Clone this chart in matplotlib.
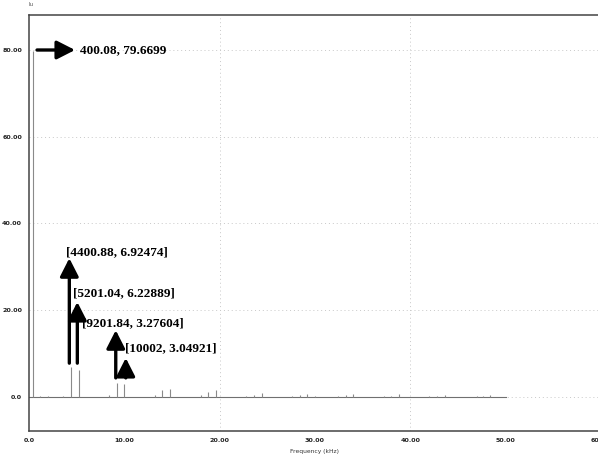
import matplotlib
matplotlib.use("Agg")
import matplotlib.pyplot as plt

# ---- data (frequency in kHz, magnitude) ----
spike_freq = [0.4, 1.2, 2.0, 3.6, 4.4, 5.2, 8.4, 9.2, 10.0, 13.2, 14.0, 14.8,
              18.0, 18.8, 19.6, 22.8, 23.6, 24.4, 27.6, 28.4, 29.2, 30.0,
              32.4, 33.2, 34.0, 37.2, 38.0, 38.8, 42.0, 42.8, 43.6,
              47.0, 47.6, 48.4]
spike_amp = [79.6699, 0.15, 0.15, 0.3, 6.92474, 6.22889, 0.4, 3.27604, 3.04921,
             0.5, 1.6, 1.9, 0.4, 1.1, 1.5, 0.3, 0.5, 0.9, 0.3, 0.4, 0.8, 0.2,
             0.3, 0.4, 0.8, 0.3, 0.3, 0.6, 0.2, 0.3, 0.4, 0.2, 0.3, 0.4]
freq_range = [0.0, 50.0]
baseline = [0.0, 0.0]

x_ticks = [0, 10, 20, 30, 40, 50, 60]
x_tick_labels = ["0.0", "10.00", "20.00", "30.00", "40.00", "50.00", "60.00"]
y_ticks = [0, 20, 40, 60, 80]
y_tick_labels = ["0.0", "20.00", "40.00", "60.00", "80.00"]
x_grid = [20, 40]

labels = ["400.08, 79.6699", "[4400.88, 6.92474]", "[5201.04, 6.22889]",
          "[9201.84, 3.27604]", "[10002, 3.04921]"]

W, H = 598, 465
fig = plt.figure(figsize=(W / 100, H / 100), dpi=100)
left_px, right_px, top_px, bot_px = 29, 601, 15, 431
ax = fig.add_axes([left_px / W, (H - bot_px) / H, (right_px - left_px) / W,
                   (bot_px - top_px) / H])
ax.set_xlim(0, 60)
ax.set_ylim(-7.84, 88.07)

# grid
for g in y_ticks:
    ax.axhline(g, color="#c8c8c8", lw=0.7, ls=(0, (1, 3)), zorder=0)
for g in x_grid:
    ax.axvline(g, color="#c8c8c8", lw=0.7, ls=(0, (1, 3)), zorder=0)

# spectrum
ax.plot(freq_range, baseline, color="#707070", lw=0.8, zorder=2)
ax.vlines(spike_freq, 0, spike_amp, color="#8a8a8a", lw=0.8, zorder=2)

# arrows
def arrow(tail, tip):
    ax.annotate("", xy=tip, xytext=tail,
                arrowprops=dict(arrowstyle="-|>,head_length=11,head_width=5.6",
                                mutation_scale=1, lw=2.4, color="black",
                                shrinkA=0, shrinkB=0), zorder=5)

arrow((0.84, 80.0), (4.83, 80.0))
arrow((4.23, 7.8), (4.23, 32.0))
arrow((5.07, 7.8), (5.07, 21.9))
arrow((9.1, 4.4), (9.1, 15.4))
arrow((10.15, 4.4), (10.15, 9.0))

tfont = dict(family="Liberation Serif", weight="bold", size=9.5, color="black",
             va="center", ha="left", zorder=6)
ax.text(5.35, 80.0, labels[0], **tfont)
ax.text(3.88, 33.5, labels[1], **tfont)
ax.text(4.59, 24.0, labels[2], **tfont)
ax.text(5.53, 17.1, labels[3], **tfont)
ax.text(10.07, 11.3, labels[4], **tfont)

# ticks
ax.set_xticks(x_ticks)
ax.set_xticklabels(x_tick_labels)
ax.set_yticks(y_ticks)
ax.set_yticklabels(y_tick_labels)
ax.tick_params(axis="both", length=0, labelsize=4.6, labelcolor="#222222")
ax.tick_params(axis="x", pad=5)
ax.tick_params(axis="y", pad=5)
for lab in ax.get_xticklabels() + ax.get_yticklabels():
    lab.set_fontweight("bold")

for s in ax.spines.values():
    s.set_color("#444444")
    s.set_linewidth(1.1)

fig.text(315 / W, 1 - 451 / H, "Frequency (kHz)", ha="center", va="center",
         fontsize=4.3, color="#333333")
fig.text(31 / W, 1 - 5 / H, "Iu", ha="center", va="center", fontsize=4,
         color="#555555")

fig.savefig("out.png", dpi=100)
